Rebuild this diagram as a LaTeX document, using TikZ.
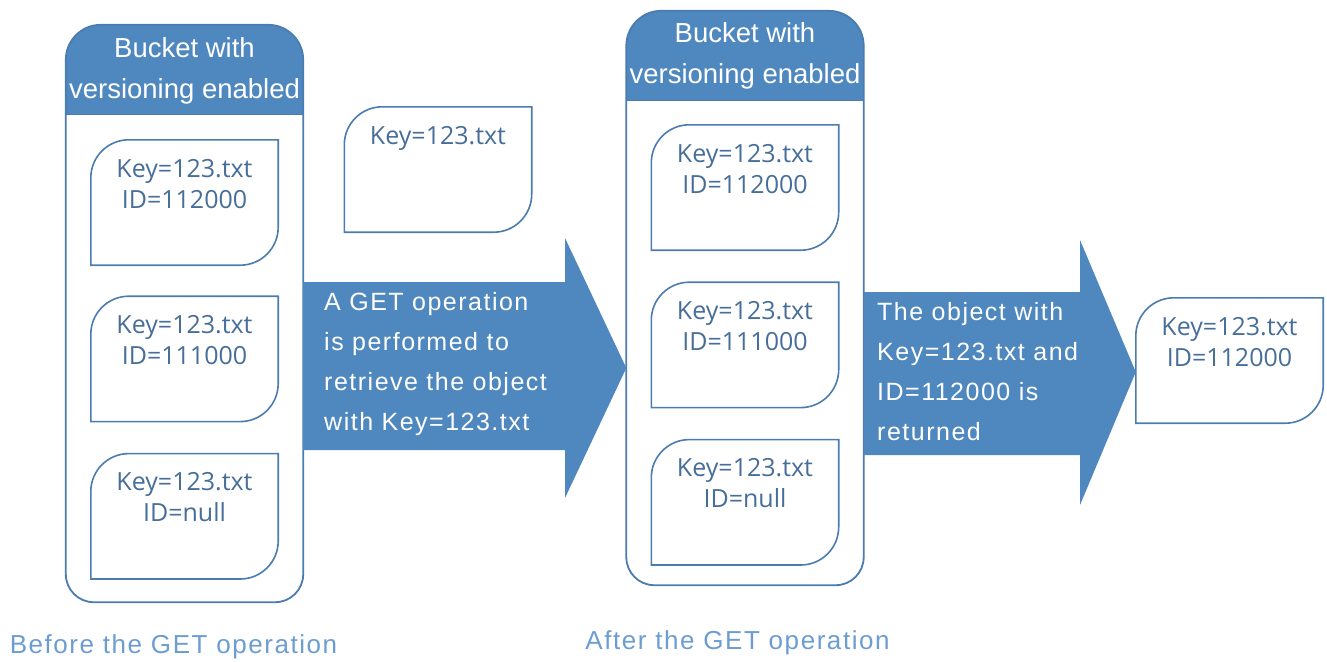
\documentclass[tikz,border=0pt]{standalone}
\usepackage{fontspec}
\setmainfont{Liberation Sans}
\newfontfamily\docfont{Open Sans}
\newfontfamily\widefont[LetterSpace=6]{Liberation Sans}
\usepackage{xcolor}
\definecolor{bktblue}{HTML}{4F87BF}
\definecolor{edgeblue}{HTML}{4A7CB0}
\definecolor{doctext}{HTML}{466E98}
\definecolor{captblue}{HTML}{6C9DD2}
\usepackage{tikz}
\usetikzlibrary{positioning,calc}
% text block of a version card: top aligned, fixed size
\newcommand{\cardtext}[1]{\parbox[c][125pt][t]{187pt}{\centering\rule{0pt}{37pt}#1}}

\begin{document}
\begin{tikzpicture}[
  x=1pt, y=1pt,
  bucket/.style={minimum width=237pt, minimum height=577pt, inner sep=0pt},
  card/.style={inner sep=0pt, text=doctext,
    font=\docfont\fontsize{25}{31}\selectfont},
  cardline/.style={draw=edgeblue, line width=1.6pt},
  headtxt/.style={text=white, align=center, font=\fontsize{27.5}{41}\selectfont},
  arrtxt/.style={text=white, align=left, anchor=west, inner sep=0pt,
    font=\widefont\fontsize{25}{40}\selectfont},
  capt/.style={text=captblue, font=\widefont\fontsize{26}{30}\selectfont},
  blockarrow/.style={fill=bktblue}
]
\useasboundingbox (0,0) rectangle (1327,-661);

% buckets
\node[bucket] (bkL) at (184.5,-313.5) {};
\node[bucket, minimum height=574pt] (bkR) at (745,-298) {};
\foreach \b in {bkL,bkR} {
  \fill[bktblue] ([yshift=-90pt]\b.north west) -- ([yshift=-35pt]\b.north west)
    arc[start angle=180, end angle=90, radius=35]
    -- ([xshift=-35pt]\b.north east)
    arc[start angle=90, end angle=0, radius=35]
    -- ([yshift=-90pt]\b.north east) -- cycle;
  \draw[edgeblue, line width=1.2pt] ([yshift=-90pt]\b.north west) -- ([yshift=-90pt]\b.north east);
  \draw[edgeblue, line width=1.8pt] ([yshift=-35pt]\b.north west)
    arc[start angle=180, end angle=90, radius=35]
    -- ([xshift=-35pt]\b.north east)
    arc[start angle=90, end angle=0, radius=35]
    -- ([yshift=28pt]\b.south east)
    arc[start angle=0, end angle=-90, radius=28]
    -- ([xshift=28pt]\b.south west)
    arc[start angle=270, end angle=180, radius=28] -- cycle;
}
\node[headtxt] (hdL) at ([yshift=-46pt]bkL.north) {Bucket with\\versioning enabled};
\node[headtxt] (hdR) at ([yshift=-45pt]bkR.north) {Bucket with\\versioning enabled};

% version cards
\node[card, below=115pt of bkL.north] (l1) {\cardtext{Key=123.txt\\ID=112000}};
\node[card, below=31pt of l1] (l2) {\cardtext{Key=123.txt\\ID=111000}};
\node[card, below=32pt of l2] (l3) {\cardtext{Key=123.txt\\ID=null}};
\node[card] (req) at (438,-169.5) {\cardtext{Key=123.txt}};
\node[card, below=114pt of bkR.north] (r1) {\cardtext{Key=123.txt\\ID=112000}};
\node[card, below=32pt of r1] (r2) {\cardtext{Key=123.txt\\ID=111000}};
\node[card, below=32pt of r2] (r3) {\cardtext{Key=123.txt\\ID=null}};
\node[card] (res) at (1229.5,-360.5) {\cardtext{Key=123.txt\\ID=112000}};
\foreach \d in {l1,l2,l3,req,r1,r2,r3,res} {
  \draw[cardline] (\d.south west) -- ([yshift=-38pt]\d.north west)
    arc[start angle=180, end angle=90, radius=38]
    -- (\d.north east) -- ([yshift=38pt]\d.south east)
    arc[start angle=0, end angle=-90, radius=38] -- cycle;
}

% block arrows
\fill[blockarrow] (bkL.east |- 0,-282) -- (565,-282) -- (565,-238)
  -- (bkR.west |- 0,-368) -- (565,-498) -- (565,-450)
  -- (bkL.east |- 0,-450) -- cycle;
\fill[blockarrow] (bkR.east |- 0,-292) -- (1080,-292) -- (1080,-240)
  -- (res.west |- 0,-372) -- (1080,-505) -- (1080,-455)
  -- (bkR.east |- 0,-455) -- cycle;
\node[arrtxt] (get) at (324,-364)
  {A GET operation\\is performed to\\retrieve the object\\with Key=123.txt};
\node[arrtxt] (ret) at (877,-372)
  {The object with\\Key=123.txt and\\ID=112000 is\\returned};

% captions
\node[capt] (capL) at (173.5,-647) {Before the GET operation};
\node[capt] (capR) at (737.5,-643) {After the GET operation};
\end{tikzpicture}
\end{document}
